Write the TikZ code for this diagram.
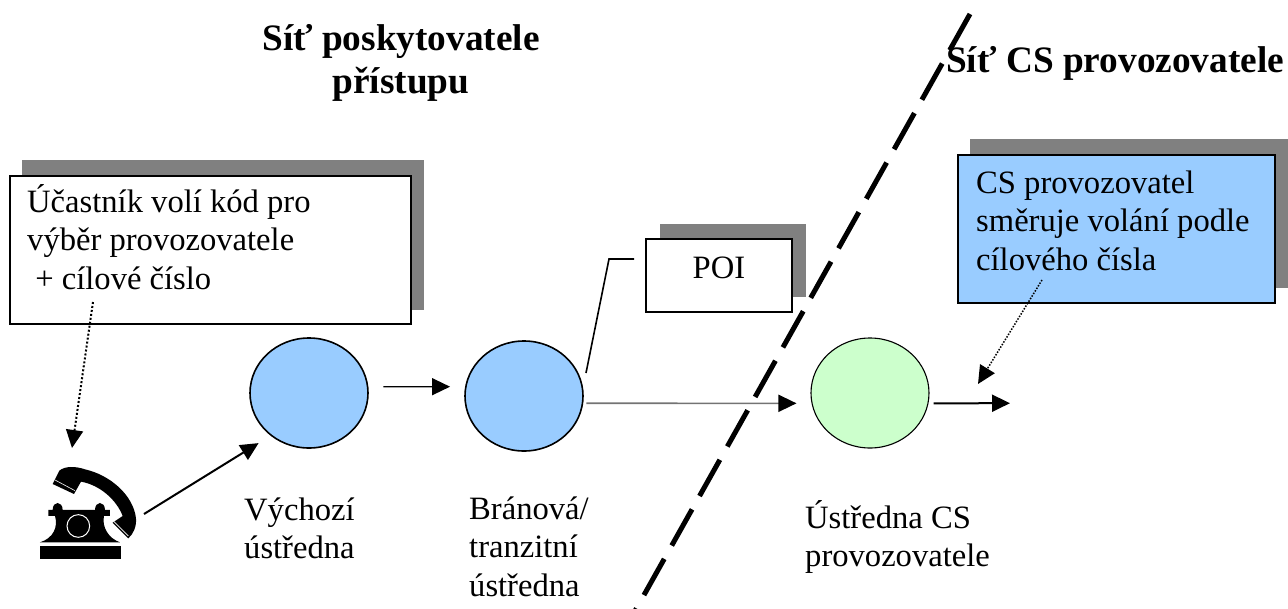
\documentclass[tikz,border=0pt]{standalone}
\usepackage{fontspec}
\setmainfont{Liberation Serif}
\usetikzlibrary{arrows.meta,shapes.geometric}
\definecolor{ballblue}{HTML}{99CCFF}
\definecolor{ballgreen}{HTML}{CCFFCC}
\tikzset{
  ball/.style={ellipse,draw=black,line width=1.6pt,inner sep=0pt,minimum width=118pt,minimum height=110pt},
  notebox/.style={rectangle,draw=black,line width=2pt,inner sep=0pt,anchor=north west},
  label/.style={anchor=north west,align=left,inner sep=0pt,font=\fontsize{32.6}{38.5}\selectfont},
  heading/.style={align=center,inner sep=0pt,font=\fontsize{37.3}{43}\selectfont\bfseries},
  tip/.style={-{Triangle[length=18pt,width=17pt,color=black]}}
}
\begin{document}
\begin{tikzpicture}[x=1pt,y=-1pt]
  \useasboundingbox (0,0) rectangle (1288,608);
  % stiny
  \fill[black!50] (22,160) rectangle (424,310);
  \fill[black!50] (660,224) rectangle (806,297);
  \fill[black!50] (970,139) rectangle (1288,288);
  % hranice siti
  \draw[line width=5pt,dash pattern=on 41.5pt off 15.3pt] (970,14) -- (635,611);
  % rameckove uzly
  \node[notebox,fill=white,minimum width=401pt,minimum height=148pt] (caller) at (9,175) {};
  \node[notebox,fill=white,minimum width=146pt,minimum height=73pt] (poi) at (645,238) {};
  \node[notebox,fill=ballblue,minimum width=317pt,minimum height=148pt] (routing) at (957,154) {};
  \node[font=\fontsize{32.6}{38.5}\selectfont,inner sep=0pt,anchor=base] (poitext) at (719,278) {POI};
  \node[label] (callertext) at (27,184) {Účastník volí kód pro\\výběr provozovatele\\\ + cílové číslo};
  \node[label] (routingtext) at (976,170.5) {CS provozovatel\\směruje volání podle\\cílového čísla};
  % ustredny
  \node[ball,fill=ballblue] (origin) at (309,393) {};
  \node[ball,fill=ballblue] (gateway) at (524,396) {};
  \node[ball,fill=ballgreen,line width=1.1pt] (csnode) at (870,393) {};
  \node[label] (origintext) at (244,497.5) {Výchozí\\ústředna};
  \node[label] (gatewaytext) at (469,496.5) {Bránová/\\tranzitní\\ústředna};
  \node[label] (cstext) at (805,500) {Ústředna CS\\provozovatele};
  % nadpisy
  \node[heading] (accessnet) at (401,62.5) {Síť poskytovatele\\přístupu};
  \node[heading,anchor=base west] (csnet) at (946,72) {Síť CS provozovatele};
  % telefon
  \begin{scope}[shift={(0,380)},x=0.3333pt,y=-0.3333pt]
    \fill (120,497) rectangle (362,537);
    \fill (120,487) .. controls (160,475) and (175,440) .. (165,408) -- (145,408) -- (145,390) -- (158,390)
      .. controls (158,362) and (188,362) .. (188,390) -- (285,390)
      .. controls (285,362) and (315,362) .. (315,390) -- (330,390) -- (330,408) -- (312,408)
      .. controls (305,440) and (325,475) .. (360,487) -- cycle;
    \draw[white,line width=1pt] (235,438) circle (34);
    \fill (158,312) -- (178,272) .. controls (195,258) and (225,258) .. (255,268)
      .. controls (330,285) and (400,345) .. (408,415)
      .. controls (410,440) and (400,462) .. (385,475) -- (338,428) -- (368,408)
      .. controls (350,360) and (300,315) .. (243,305) -- (222,342) -- cycle;
    \draw[white,line width=0.6pt] (165,300) -- (225,332);
    \draw[white,line width=0.6pt] (342,425) -- (385,468);
  \end{scope}
  \coordinate (phone) at (144,514);
  \coordinate (phonein) at (72,448);
  \coordinate (callout) at (93,302);
  \coordinate (routeout) at (1042,280);
  \coordinate (routein) at (978,384);
  \coordinate (poibend) at (609,259);
  \coordinate (poiend) at (634,259);
  \coordinate (gwleader) at (586,373);
  \coordinate (csout) at (1010,403.2);
  % spojnice
  \draw[line width=2pt,dash pattern=on 2pt off 2pt,tip] (callout) -- (phonein);
  \draw[line width=2pt,tip,shorten >=14pt] (phone) -- (origin.228);
  \draw[line width=1.4pt,tip,shorten <=15pt,shorten >=15pt] (origin.6) -- (gateway.171);
  \draw[line width=1.6pt,draw=black!55,tip,shorten <=3pt,shorten >=15pt] (gateway.-7) -- (csnode.190);
  \draw[line width=2pt,tip,shorten <=5pt] (csnode.-10) -- (csout);
  \draw[line width=1.5pt,dash pattern=on 1.5pt off 1.5pt,tip] (routeout) -- (routein);
  \draw[line width=1.6pt] (gwleader) -- (poibend) -- (poiend);
\end{tikzpicture}
\end{document}
